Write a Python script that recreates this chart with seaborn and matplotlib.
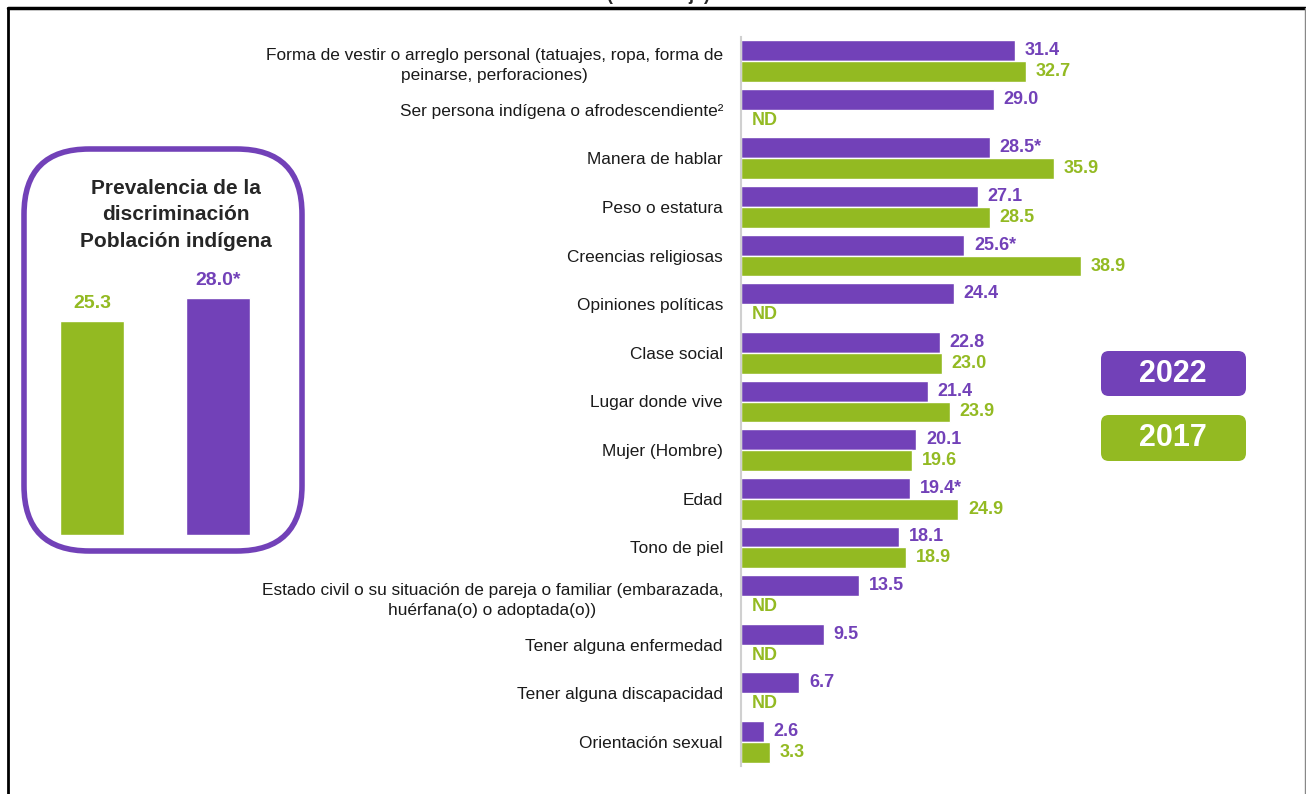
import numpy as np
import pandas as pd
import matplotlib
matplotlib.use("Agg")
import matplotlib.pyplot as plt
import seaborn as sns
from matplotlib.patches import FancyBboxPatch
from matplotlib.lines import Line2D

# Categories (top to bottom) and values per year; None = ND
categories = [
    "Forma de vestir o arreglo personal (tatuajes, ropa, forma de\npeinarse, perforaciones)",
    "Ser persona indígena o afrodescendiente²",
    "Manera de hablar",
    "Peso o estatura",
    "Creencias religiosas",
    "Opiniones políticas",
    "Clase social",
    "Lugar donde vive",
    "Mujer (Hombre)",
    "Edad",
    "Tono de piel",
    "Estado civil o su situación de pareja o familiar (embarazada,\nhuérfana(o) o adoptada(o))",
    "Tener alguna enfermedad",
    "Tener alguna discapacidad",
    "Orientación sexual",
]
values_2022 = [31.4, 29.0, 28.5, 27.1, 25.6, 24.4, 22.8, 21.4, 20.1, 19.4, 18.1, 13.5, 9.5, 6.7, 2.6]
values_2017 = [32.7, None, 35.9, 28.5, 38.9, None, 23.0, 23.9, 19.6, 24.9, 18.9, None, None, None, 3.3]
signif_2022 = [False, False, True, False, True, False, False, False, False, True, False, False, False, False, False]

years = ["2022", "2017"]
prev_years = ["2017", "2022"]
prev_values = [25.3, 28.0]
prev_labels = ["25.3", "28.0*"]

PURPLE = "#7241B8"
GREEN = "#93BA22"
palette = {"2022": PURPLE, "2017": GREEN}

sns.set_style("white")
plt.rcParams["font.family"] = ["Liberation Sans", "DejaVu Sans"]
NARROW = ["Liberation Sans Narrow", "Liberation Sans", "DejaVu Sans"]

W, H = 1306, 794
fig = plt.figure(figsize=(W / 100, H / 100), dpi=100)


def fx(px):
    return px / W


def fy(py):
    return 1 - py / H


# long-form table
rows = []
for c, a, b in zip(categories, values_2022, values_2017):
    rows.append({"cat": c, "year": "2022", "val": a})
    rows.append({"cat": c, "year": "2017", "val": np.nan if b is None else b})
df = pd.DataFrame(rows)

# main bar chart
x0, x1 = 741, 741 + 45 * 8.73
y_top, y_bot = 36.7, 766.3
ax = fig.add_axes([fx(x0), fy(y_bot), fx(x1) - fx(x0), (y_bot - y_top) / H])
sns.barplot(data=df, y="cat", x="val", hue="year", hue_order=years, palette=palette,
            order=categories, orient="h", width=0.86, saturation=1, ax=ax, legend=False)
ax.set_xlim(0, 45)
ax.set_ylim(len(categories) - 0.5, -0.5)
ax.set_xlabel("")
ax.set_ylabel("")
ax.set_xticks([])
for s in ["top", "right", "bottom"]:
    ax.spines[s].set_visible(False)
ax.spines["left"].set_color("#d0d0d0")
ax.spines["left"].set_linewidth(1.5)
ax.tick_params(axis="y", length=0, pad=13)
for lab in ax.get_yticklabels():
    lab.set_fontsize(12.4)
    lab.set_multialignment("center")
    lab.set_linespacing(1.45)
    lab.set_color("#1a1a1a")

off = 0.86 / 4
for i in range(len(categories)):
    a = values_2022[i]
    b = values_2017[i]
    t = f"{a:.1f}" + ("*" if signif_2022[i] else "")
    ax.text(a + 1.1, i - off, t, color=PURPLE, fontsize=13, fontweight="bold",
            family=NARROW, va="center", ha="left")
    if b is None:
        ax.text(1.2, i + off, "ND", color=GREEN, fontsize=13, fontweight="bold",
                family=NARROW, va="center", ha="left")
    else:
        ax.text(b + 1.1, i + off, f"{b:.1f}", color=GREEN, fontsize=13, fontweight="bold",
                family=NARROW, va="center", ha="left")

# inset: prevalence box
box = FancyBboxPatch((fx(24), fy(551)), fx(302) - fx(24), (551 - 149) / H,
                     boxstyle="round,pad=0,rounding_size=0.05", transform=fig.transFigure,
                     facecolor="none", edgecolor=PURPLE, linewidth=4, mutation_aspect=W / H)
fig.patches.append(box)
fig.text(fx(176), fy(215), "Prevalencia de la\ndiscriminación\nPoblación indígena",
         ha="center", va="center", fontsize=15, fontweight="bold", linespacing=1.5)

ins_bottom, ins_top = 535, 535 - 32 * 8.46
iax = fig.add_axes([fx(29), fy(ins_bottom), fx(281) - fx(29), (ins_bottom - ins_top) / H])
pdf = pd.DataFrame({"year": prev_years, "val": prev_values})
sns.barplot(data=pdf, x="year", y="val", hue="year", palette=palette, order=prev_years,
            width=0.51, saturation=1, ax=iax, legend=False)
iax.set_xlim(-0.5, 1.5)
iax.set_ylim(0, 32)
iax.axis("off")
for i, (v, t) in enumerate(zip(prev_values, prev_labels)):
    iax.text(i, v + 1.1, t, ha="center", va="bottom", fontsize=14, fontweight="bold",
             family=NARROW, color=palette[prev_years[i]])

# year legend boxes
for yy, (top, bot) in zip(years, [(351, 396), (415, 461)]):
    p = FancyBboxPatch((fx(1101), fy(bot)), fx(1246) - fx(1101), (bot - top) / H,
                       boxstyle="round,pad=0,rounding_size=0.006", transform=fig.transFigure,
                       facecolor=palette[yy], edgecolor="none", mutation_aspect=W / H)
    fig.patches.append(p)
    fig.text(fx(1173), fy((top + bot) / 2), yy, ha="center", va="center", color="white",
             fontsize=22, fontweight="bold", family=NARROW)

# outer frame
fig.add_artist(Line2D([fx(8), fx(1305)], [fy(8), fy(8)], color="black", linewidth=2.5,
                      transform=fig.transFigure))
fig.add_artist(Line2D([fx(8), fx(8)], [fy(8), fy(800)], color="black", linewidth=2,
                      transform=fig.transFigure))
fig.add_artist(Line2D([fx(1305), fx(1305)], [fy(8), fy(800)], color="#888888", linewidth=1,
                      transform=fig.transFigure))
fig.text(fx(658), fy(-4), "(Porcentaje)", ha="center", va="center", fontsize=13,
         fontweight="bold")

fig.savefig("out.png", dpi=100)
